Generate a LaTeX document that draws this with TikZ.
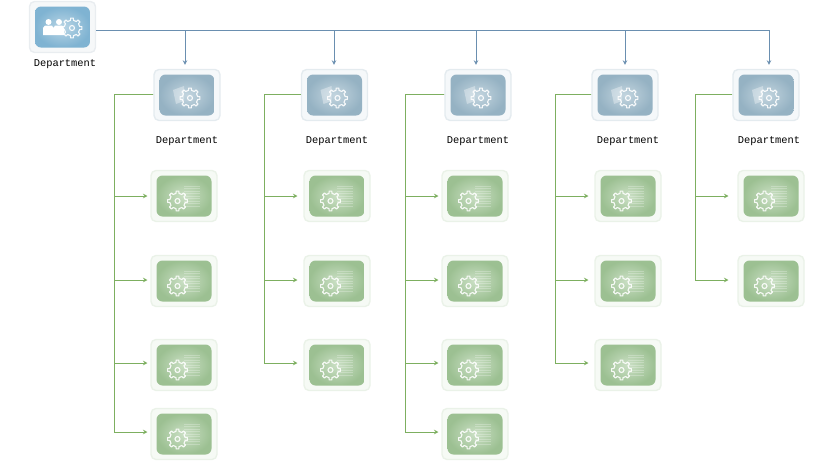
\documentclass[tikz,border=0pt]{standalone}
\usepackage{fontspec}
\newfontfamily\labelfont{Liberation Mono}
\usetikzlibrary{arrows.meta}

\definecolor{busblue}{HTML}{6A8FB0}
\definecolor{branchgreen}{HTML}{7DAF60}
\definecolor{rootedge}{HTML}{E9EDF0}
\definecolor{rootfill}{HTML}{F6F8F9}
\definecolor{rootmid}{HTML}{B9D5E5}
\definecolor{rootrim}{HTML}{7FB3D2}
\definecolor{deptedge}{HTML}{E4EBEF}
\definecolor{deptfill}{HTML}{F5F8FA}
\definecolor{deptmid}{HTML}{C3D5DF}
\definecolor{deptrim}{HTML}{95B2C3}
\definecolor{childedge}{HTML}{EAF2E8}
\definecolor{childfill}{HTML}{F6FAF5}
\definecolor{childmid}{HTML}{CBE0C5}
\definecolor{childrim}{HTML}{9CC092}

\tikzset{
  outerbox/.style n args={2}{draw=#1, fill=#2, line width=1.4pt, rounded corners=5pt,
    minimum width=66pt, minimum height=51pt, inner sep=0pt},
  innerbox/.style n args={2}{rounded corners=6pt, shading=radial, inner color=#1,
    outer color=#2, minimum width=55pt, minimum height=41pt, inner sep=0pt},
  busline/.style={draw=busblue, line width=0.8pt},
  branchline/.style={draw=branchgreen, line width=0.8pt},
  openhead/.style={-{Stealth[open, length=4.5pt, width=4.5pt]}, shorten >=#1},
  deptlabel/.style={font=\labelfont\fontsize{10.4}{12}\selectfont, inner sep=0pt},
  iconline/.style={draw=white, opacity=0.9, line width=1.1pt, line join=round},
}

% gear outline, centre at #1,#2
\newcommand{\gearicon}[2]{
  \begin{scope}[shift={(#1,#2)}]
    \draw[iconline] (-10:7.8)
      \foreach \a in {0,45,...,315} {
        -- (\a-11:7.8) -- (\a-8:10) -- (\a+8:10) -- (\a+11:7.8)
      } -- cycle;
    \draw[iconline] (0,0) circle (2.5pt);
  \end{scope}
}

\begin{document}
\begin{tikzpicture}[x=1pt, y=-1pt]
  \useasboundingbox (0,0) rectangle (825,464);

  %% Top box
  \node[outerbox={rootedge}{rootfill}] (root) at (62.5,27) {};
  \node[innerbox={rootmid}{rootrim}] (rootin) at (root.center) {};
  \gearicon{72}{28}
  % two people in front of the gear
  \fill[white] (48.5,22) circle (3pt) (59,22) circle (3pt);
  \fill[white] (43,35) -- (43,28) -- (45,25.5) -- (52,25.5) -- (53.5,28)
    -- (55,25.5) -- (62,25.5) -- (64,28) -- (64,35) -- cycle;
  \node[deptlabel] (rootlabel) at (65,64.5) {Department};

  \coordinate (busend) at (769,30);
  \draw[busline] (root.east |- busend) -- (busend);

  %% Columns: name / box x / arrow x / trunk x / child x / label x / rows (box y / arrow y)
  \foreach \col/\dx/\ax/\tx/\gx/\lx/\rows in {
      a/187/185/115/184/187/{196/196,281/280,365/363,434/432},
      b/334.5/334/265/337/337/{196/196,281/280,365/363},
      c/478/476/406/475/478/{196/196,281/280,365/363,434/432},
      d/625/625/556/628/628/{196/196,281/280,365/363},
      e/766/769/696/771/769/{196/196,281/280}} {

    % Department box with its icon
    \node[outerbox={deptedge}{deptfill}] (dept\col) at (\dx,95) {};
    \node[innerbox={deptmid}{deptrim}] (dept\col in) at (dept\col.center) {};
    \fill[white, opacity=0.35] (\dx-14,90) -- (\dx-3,86) -- (\dx-3,101) -- (\dx-11,104) -- cycle;
    \gearicon{\dx+3}{98}
    \node[deptlabel] (label\col) at (\lx,141) {Department};

    % arrow from the bus line
    \coordinate (tap\col) at (\ax,30);
    \draw[busline, openhead=4pt] (tap\col) -- (tap\col |- dept\col.north);

    % trunk and children
    \coordinate (trunk\col) at (\tx-0.5,94.5);
    \foreach \y/\by in \rows {
      \node[outerbox={childedge}{childfill}] (child\col\y) at (\gx,\y) {};
      \node[innerbox={childmid}{childrim}] (child\col\y in) at (child\col\y.center) {};
      % faint text lines
      \foreach \k in {-10,-7.5,...,11}
        \draw[white, opacity=0.25, line width=0.7pt]
          (\gx,\y+\k) -- (\gx+16,\y+\k);
      \gearicon{\gx-6.5}{\y+5}
      \coordinate (tip\col\y) at (\tx+32.5,\by);
      \draw[branchline, openhead=0pt] (trunk\col -| dept\col.west) -- (trunk\col) |- (tip\col\y);
    }
  }
\end{tikzpicture}
\end{document}
